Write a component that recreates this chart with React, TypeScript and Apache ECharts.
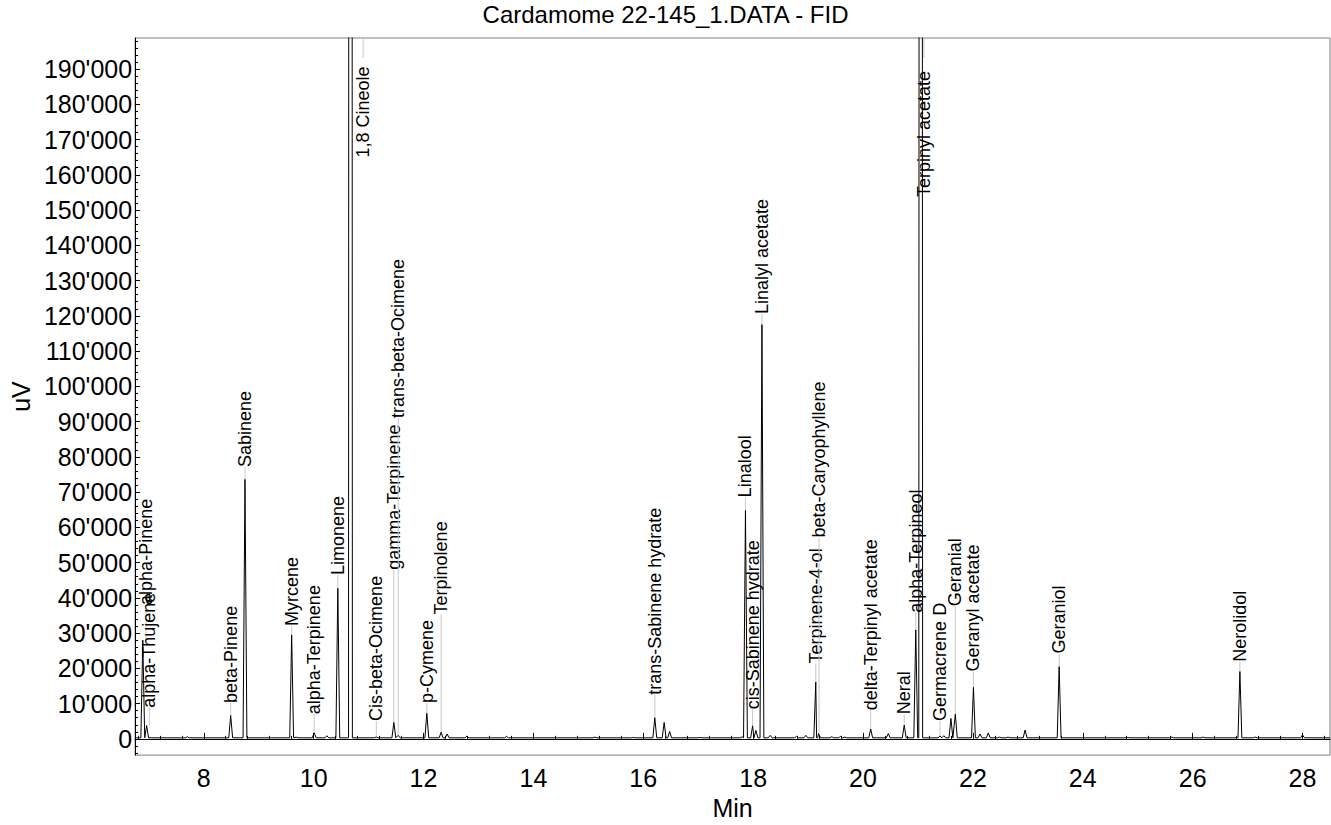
import React, { useEffect, useRef } from "react";
import * as echarts from "echarts";

const TITLE = "Cardamome 22-145_1.DATA - FID";
const X_NAME = "Min";
const Y_NAME = "uV";
const X_MIN = 6.75;
const X_MAX = 28.5;
const Y_MIN = -4600;
const Y_MAX = 198800;
const BASELINE = 300;

const xTickValues = [8, 10, 12, 14, 16, 18, 20, 22, 24, 26, 28];
const yTickValues = [0, 10000, 20000, 30000, 40000, 50000, 60000, 70000, 80000, 90000, 100000, 110000, 120000, 130000, 140000, 150000, 160000, 170000, 180000, 190000];

// Named (annotated) peaks
const peakNames = [
  "alpha-Pinene", "alpha-Thujene", "beta-Pinene", "Sabinene", "Myrcene", "alpha-Terpinene",
  "Limonene", "1,8 Cineole", "Cis-beta-Ocimene", "gamma-Terpinene", "trans-beta-Ocimene",
  "p-Cymene", "Terpinolene", "trans-Sabinene hydrate", "Linalool", "cis-Sabinene hydrate",
  "Linalyl acetate", "Terpinene-4-ol", "beta-Caryophyllene", "delta-Terpinyl acetate", "Neral",
  "alpha-Terpineol", "Terpinyl acetate", "Germacrene D", "Geranial", "Geranyl acetate",
  "Geraniol", "Nerolidol",
];
const peakTimes = [
  6.89, 6.96, 8.49, 8.75, 9.60, 10.01,
  10.44, 10.67, 11.14, 11.46, 11.54,
  12.06, 12.32, 16.21, 17.86, 17.99,
  18.16, 19.14, 19.19, 20.14, 20.75,
  20.96, 21.05, 21.40, 21.68, 22.01,
  23.57, 26.86,
];
const peakHeights = [
  28000, 3800, 6600, 73600, 29500, 1700,
  42700, 2000000, 500, 4650, 1000,
  7250, 1870, 6000, 64800, 3700,
  117500, 16100, 1500, 2800, 3900,
  30900, 1500000, 800, 7000, 14600,
  20500, 19100,
];
// where each annotation is anchored (retention time, uV at label start)
const labelTimes = [
  6.95, 7.01, 8.49, 8.75, 9.60, 10.01,
  10.44, 10.90, 11.14, 11.46, 11.54,
  12.06, 12.32, 16.21, 17.86, 17.99,
  18.16, 19.14, 19.20, 20.14, 20.75,
  20.96, 21.11, 21.40, 21.68, 22.01,
  23.57, 26.86,
];
const labelStarts = [
  38000, 8800, 10200, 77100, 32000, 7000,
  46500, 164900, 5100, 48000, 91000,
  10200, 35300, 12500, 68500, 8400,
  120500, 21400, 57100, 8100, 7000,
  35800, 153700, 5100, 37600, 19100,
  24200, 21900,
];

// Unlabelled small peaks
const minorPeakTimes = [
  7.70, 9.68, 10.24, 12.43, 12.79, 13.51, 15.12, 15.82, 16.38, 16.48,
  17.03, 17.80, 18.05, 18.31, 18.79, 18.96, 19.43, 19.59, 19.67, 20.46,
  21.47, 21.60, 22.13, 22.28, 22.48, 22.64, 22.95, 24.82, 25.62, 26.19,
  27.14, 28.00,
];
const minorPeakHeights = [
  600, 500, 900, 1400, 800, 700, 500, 400, 4650, 2100,
  400, 600, 2400, 1000, 700, 1000, 600, 700, 500, 1500,
  900, 5800, 1400, 1700, 500, 500, 2500, 400, 500, 500,
  500, 1100,
];

const HALF_WIDTH = 0.035;

function buildTrace(): number[][] {
  const peaks: number[][] = [];
  peakTimes.forEach((t, i) => peaks.push([t, peakHeights[i]]));
  minorPeakTimes.forEach((t, i) => peaks.push([t, minorPeakHeights[i]]));
  const pts: number[][] = [[X_MIN, BASELINE], [X_MAX, BASELINE]];
  peaks.forEach(([t, h]) => {
    pts.push([t - HALF_WIDTH, BASELINE]);
    pts.push([t, h]);
    pts.push([t + HALF_WIDTH, BASELINE]);
  });
  pts.sort((a, b) => a[0] - b[0]);
  return pts;
}

const fmt = (v: number) => String(v).replace(/\B(?=(\d{3})+(?!\d))/g, "'");

const FONT = '"Liberation Sans", Arial, sans-serif';

export default function App() {
  const ref = useRef<HTMLDivElement>(null);
  useEffect(() => {
    if (!ref.current) return;
    const chart = echarts.init(ref.current, undefined, { renderer: "svg" });

    const xMinor: number[] = [];
    for (let k = 17; k <= 71; k++) {
      const v = Math.round(k * 0.4 * 10) / 10;
      if (Math.abs(v / 2 - Math.round(v / 2)) > 1e-6) xMinor.push(v);
    }
    const yMinor: number[] = [];
    for (let v = -4000; v <= 198000; v += 2000) {
      if (v % 10000 !== 0) yMinor.push(v);
    }

    const labelData = peakNames.map((_, i) => [labelTimes[i], peakHeights[i], labelStarts[i]]);

    chart.setOption({
      animation: false,
      backgroundColor: "#fff",
      textStyle: { fontFamily: FONT },
      title: {
        text: TITLE,
        left: "center",
        top: 2,
        padding: 0,
        textStyle: { fontFamily: FONT, fontSize: 24, fontWeight: "normal", color: "#000" },
      },
      grid: {
        left: 135, right: 1, top: 38, bottom: 57,
        show: true, borderColor: "#808080", borderWidth: 1,
      },
      xAxis: [
        {
          type: "value", min: X_MIN, max: X_MAX,
          name: X_NAME, nameLocation: "middle", nameGap: 34,
          nameTextStyle: { fontFamily: FONT, fontSize: 25, color: "#000" },
          axisLine: { show: true, lineStyle: { color: "#000", width: 1 } },
          axisTick: { show: true, inside: true, length: 6, customValues: xTickValues, lineStyle: { color: "#000" } },
          axisLabel: { customValues: xTickValues, fontFamily: FONT, fontSize: 25, color: "#000", margin: 10 },
          splitLine: { show: false },
        },
        {
          type: "value", min: X_MIN, max: X_MAX, position: "bottom",
          axisLine: { show: false },
          axisTick: { show: true, inside: true, length: 3, customValues: xMinor, lineStyle: { color: "#000" } },
          axisLabel: { show: false },
          splitLine: { show: false },
        },
      ],
      yAxis: [
        {
          type: "value", min: Y_MIN, max: Y_MAX,
          name: Y_NAME, nameLocation: "middle", nameGap: 93,
          nameTextStyle: { fontFamily: FONT, fontSize: 25, color: "#000" },
          axisLine: { show: true, lineStyle: { color: "#000", width: 1 } },
          axisTick: { show: true, inside: true, length: 5, customValues: yTickValues, lineStyle: { color: "#000" } },
          axisLabel: { customValues: yTickValues, formatter: fmt, fontFamily: FONT, fontSize: 25, color: "#000", margin: 3 },
          splitLine: { show: false },
        },
        {
          type: "value", min: Y_MIN, max: Y_MAX, position: "left",
          axisLine: { show: false },
          axisTick: { show: true, inside: true, length: 3, customValues: yMinor, lineStyle: { color: "#000" } },
          axisLabel: { show: false },
          splitLine: { show: false },
        },
      ],
      series: [
        {
          type: "custom",
          xAxisIndex: 0, yAxisIndex: 0,
          z: 1,
          data: labelData,
          encode: { x: 0, y: 2 },
          renderItem: (params: any, api: any) => {
            const lt = api.value(0);
            const h = api.value(1);
            const ls = api.value(2);
            const name = peakNames[params.dataIndex];
            const p = api.coord([lt, ls]);
            const x = p[0];
            const yStart = p[1];
            const yTop = api.coord([lt, Y_MAX])[1];
            const off = h > Y_MAX;
            const yApex = off ? yTop : api.coord([lt, h])[1];
            const yEnd = off ? yTop + 20 : yStart;
            return {
              type: "group",
              children: [
                {
                  type: "line",
                  shape: { x1: x, y1: yApex, x2: x, y2: yEnd },
                  style: { stroke: "#c8c8c8", lineWidth: 1 },
                },
                {
                  type: "text",
                  x: x,
                  y: yStart,
                  rotation: Math.PI / 2,
                  style: {
                    text: name,
                    fill: "#000",
                    fontFamily: FONT,
                    fontSize: 18,
                    align: "left",
                    verticalAlign: "middle",
                  },
                },
              ],
            };
          },
        },
        {
          type: "line",
          xAxisIndex: 0, yAxisIndex: 0,
          z: 3,
          data: buildTrace(),
          showSymbol: false,
          symbol: "none",
          clip: true,
          lineStyle: { color: "#000", width: 1 },
        },
      ],
    });
    return () => chart.dispose();
  }, []);
  return <div ref={ref} style={{ position: "fixed", left: 0, top: 0, width: 1331, height: 825 }} />;
}
